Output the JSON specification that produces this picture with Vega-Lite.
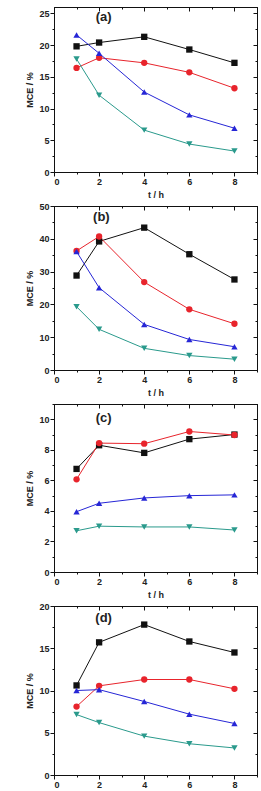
{
  "$schema": "https://vega.github.io/schema/vega-lite/v6.json",
  "padding": {"left": 25, "top": 6, "right": 4, "bottom": 4},
  "background": "white",
  "bounds": "flush",
  "spacing": 34,
  "config": {
    "view": {"stroke": "#111", "strokeWidth": 1},
    "font": "Liberation Sans",
    "axis": {
      "domainColor": "#111",
      "tickColor": "#111",
      "labelColor": "#222",
      "labelFont": "Liberation Sans",
      "labelFontSize": 9,
      "labelFontWeight": "bold",
      "titleFont": "Liberation Sans",
      "titleFontSize": 9,
      "titleFontWeight": "bold",
      "titleColor": "#222",
      "grid": false,
      "labelPadding": 1
    }
  },
  "datasets": {
    "points": [
      {"panel": "a", "series": "s1", "t": 1, "mce": 19.8},
      {"panel": "a", "series": "s1", "t": 2, "mce": 20.4},
      {"panel": "a", "series": "s1", "t": 4, "mce": 21.3},
      {"panel": "a", "series": "s1", "t": 6, "mce": 19.3},
      {"panel": "a", "series": "s1", "t": 8, "mce": 17.2},
      {"panel": "a", "series": "s2", "t": 1, "mce": 16.4},
      {"panel": "a", "series": "s2", "t": 2, "mce": 18.0},
      {"panel": "a", "series": "s2", "t": 4, "mce": 17.2},
      {"panel": "a", "series": "s2", "t": 6, "mce": 15.7},
      {"panel": "a", "series": "s2", "t": 8, "mce": 13.2},
      {"panel": "a", "series": "s3", "t": 1, "mce": 21.6},
      {"panel": "a", "series": "s3", "t": 2, "mce": 18.7},
      {"panel": "a", "series": "s3", "t": 4, "mce": 12.6},
      {"panel": "a", "series": "s3", "t": 6, "mce": 9.0},
      {"panel": "a", "series": "s3", "t": 8, "mce": 6.9},
      {"panel": "a", "series": "s4", "t": 1, "mce": 17.8},
      {"panel": "a", "series": "s4", "t": 2, "mce": 12.1},
      {"panel": "a", "series": "s4", "t": 4, "mce": 6.6},
      {"panel": "a", "series": "s4", "t": 6, "mce": 4.4},
      {"panel": "a", "series": "s4", "t": 8, "mce": 3.3},

      {"panel": "b", "series": "s1", "t": 1, "mce": 28.8},
      {"panel": "b", "series": "s1", "t": 2, "mce": 39.2},
      {"panel": "b", "series": "s1", "t": 4, "mce": 43.4},
      {"panel": "b", "series": "s1", "t": 6, "mce": 35.3},
      {"panel": "b", "series": "s1", "t": 8, "mce": 27.6},
      {"panel": "b", "series": "s2", "t": 1, "mce": 36.3},
      {"panel": "b", "series": "s2", "t": 2, "mce": 40.7},
      {"panel": "b", "series": "s2", "t": 4, "mce": 26.8},
      {"panel": "b", "series": "s2", "t": 6, "mce": 18.5},
      {"panel": "b", "series": "s2", "t": 8, "mce": 14.1},
      {"panel": "b", "series": "s3", "t": 1, "mce": 36.1},
      {"panel": "b", "series": "s3", "t": 2, "mce": 25.1},
      {"panel": "b", "series": "s3", "t": 4, "mce": 13.9},
      {"panel": "b", "series": "s3", "t": 6, "mce": 9.3},
      {"panel": "b", "series": "s3", "t": 8, "mce": 7.1},
      {"panel": "b", "series": "s4", "t": 1, "mce": 19.3},
      {"panel": "b", "series": "s4", "t": 2, "mce": 12.4},
      {"panel": "b", "series": "s4", "t": 4, "mce": 6.6},
      {"panel": "b", "series": "s4", "t": 6, "mce": 4.4},
      {"panel": "b", "series": "s4", "t": 8, "mce": 3.3},

      {"panel": "c", "series": "s1", "t": 1, "mce": 6.75},
      {"panel": "c", "series": "s1", "t": 2, "mce": 8.3},
      {"panel": "c", "series": "s1", "t": 4, "mce": 7.8},
      {"panel": "c", "series": "s1", "t": 6, "mce": 8.7},
      {"panel": "c", "series": "s1", "t": 8, "mce": 9.0},
      {"panel": "c", "series": "s2", "t": 1, "mce": 6.07},
      {"panel": "c", "series": "s2", "t": 2, "mce": 8.44},
      {"panel": "c", "series": "s2", "t": 4, "mce": 8.4},
      {"panel": "c", "series": "s2", "t": 6, "mce": 9.2},
      {"panel": "c", "series": "s2", "t": 8, "mce": 8.97},
      {"panel": "c", "series": "s3", "t": 1, "mce": 3.95},
      {"panel": "c", "series": "s3", "t": 2, "mce": 4.5},
      {"panel": "c", "series": "s3", "t": 4, "mce": 4.85},
      {"panel": "c", "series": "s3", "t": 6, "mce": 5.0},
      {"panel": "c", "series": "s3", "t": 8, "mce": 5.05},
      {"panel": "c", "series": "s4", "t": 1, "mce": 2.7},
      {"panel": "c", "series": "s4", "t": 2, "mce": 3.0},
      {"panel": "c", "series": "s4", "t": 4, "mce": 2.95},
      {"panel": "c", "series": "s4", "t": 6, "mce": 2.95},
      {"panel": "c", "series": "s4", "t": 8, "mce": 2.75},

      {"panel": "d", "series": "s1", "t": 1, "mce": 10.6},
      {"panel": "d", "series": "s1", "t": 2, "mce": 15.7},
      {"panel": "d", "series": "s1", "t": 4, "mce": 17.8},
      {"panel": "d", "series": "s1", "t": 6, "mce": 15.8},
      {"panel": "d", "series": "s1", "t": 8, "mce": 14.5},
      {"panel": "d", "series": "s2", "t": 1, "mce": 8.1},
      {"panel": "d", "series": "s2", "t": 2, "mce": 10.55},
      {"panel": "d", "series": "s2", "t": 4, "mce": 11.3},
      {"panel": "d", "series": "s2", "t": 6, "mce": 11.3},
      {"panel": "d", "series": "s2", "t": 8, "mce": 10.2},
      {"panel": "d", "series": "s3", "t": 1, "mce": 10.0},
      {"panel": "d", "series": "s3", "t": 2, "mce": 10.1},
      {"panel": "d", "series": "s3", "t": 4, "mce": 8.7},
      {"panel": "d", "series": "s3", "t": 6, "mce": 7.2},
      {"panel": "d", "series": "s3", "t": 8, "mce": 6.1},
      {"panel": "d", "series": "s4", "t": 1, "mce": 7.15},
      {"panel": "d", "series": "s4", "t": 2, "mce": 6.2},
      {"panel": "d", "series": "s4", "t": 4, "mce": 4.6},
      {"panel": "d", "series": "s4", "t": 6, "mce": 3.7},
      {"panel": "d", "series": "s4", "t": 8, "mce": 3.2}
    ],
    "labels": [
      {"panel": "a", "label": "(a)", "t": 2.2, "mce": 24.4},
      {"panel": "b", "label": "(b)", "t": 2.1, "mce": 46.6},
      {"panel": "c", "label": "(c)", "t": 2.2, "mce": 10.1},
      {"panel": "d", "label": "(d)", "t": 2.2, "mce": 18.6}
    ]
  },
  "vconcat": [
    {
      "width": 203, "height": 165,
      "resolve": {"axis": {"x": "independent", "y": "independent"}},
      "layer": [
        {
          "data": {"name": "points"},
          "transform": [{"filter": "datum.panel == 'a'"}],
          "mark": {"type": "line", "strokeWidth": 1},
          "encoding": {
            "x": {"field": "t", "type": "quantitative", "scale": {"domain": [0, 9], "nice": false},
              "axis": {"title": "t / h", "values": [0,1,2,3,4,5,6,7,8,9], "labelExpr": "datum.value % 2 == 0 ? datum.label : ''",
                "tickSize": {"condition": {"test": "datum.value % 2 == 1", "value": 2}, "value": 4}}},
            "y": {"field": "mce", "type": "quantitative", "scale": {"domain": [0, 26], "nice": false},
              "axis": {"title": "MCE / %", "values": [0,2.5,5,7.5,10,12.5,15,17.5,20,22.5,25], "labelExpr": "datum.value % 5 == 0 ? datum.label : ''",
                "tickSize": {"condition": {"test": "datum.value % 5 != 0", "value": 2}, "value": 4}}},
            "color": {"field": "series", "type": "nominal", "legend": null,
              "scale": {"domain": ["s1","s2","s3","s4"], "range": ["#111111", "#e8242c", "#2626d6", "#2a9a8c"]}},
            "detail": {"field": "series"}
          }
        },
        {
          "data": {"name": "points"},
          "transform": [{"filter": "datum.panel == 'a'"}],
          "mark": {"type": "point", "filled": true, "opacity": 1, "size": 40},
          "encoding": {
            "x": {"field": "t", "type": "quantitative",
              "axis": {"orient": "top", "title": null, "labels": false, "values": [0,1,2,3,4,5,6,7,8,9],
                "tickSize": {"condition": {"test": "datum.value % 2 == 1", "value": -2}, "value": -4}}},
            "y": {"field": "mce", "type": "quantitative",
              "axis": {"orient": "right", "title": null, "labels": false, "values": [0,2.5,5,7.5,10,12.5,15,17.5,20,22.5,25],
                "tickSize": {"condition": {"test": "datum.value % 5 != 0", "value": -2}, "value": -4}}},
            "color": {"field": "series", "type": "nominal", "legend": null},
            "shape": {"field": "series", "type": "nominal", "legend": null,
              "scale": {"domain": ["s1","s2","s3","s4"], "range": ["square", "circle", "triangle-up", "triangle-down"]}}
          }
        },
        {
          "data": {"name": "labels"},
          "transform": [{"filter": "datum.panel == 'a'"}],
          "mark": {"type": "text", "fontSize": 13, "fontWeight": "bold", "font": "Liberation Sans", "color": "#222"},
          "encoding": {
            "x": {"field": "t", "type": "quantitative", "axis": null},
            "y": {"field": "mce", "type": "quantitative", "axis": null},
            "text": {"field": "label"}
          }
        }
      ]
    },
    {
      "width": 203, "height": 164,
      "resolve": {"axis": {"x": "independent", "y": "independent"}},
      "layer": [
        {
          "data": {"name": "points"},
          "transform": [{"filter": "datum.panel == 'b'"}],
          "mark": {"type": "line", "strokeWidth": 1},
          "encoding": {
            "x": {"field": "t", "type": "quantitative", "scale": {"domain": [0, 9], "nice": false},
              "axis": {"title": "t / h", "values": [0,1,2,3,4,5,6,7,8,9], "labelExpr": "datum.value % 2 == 0 ? datum.label : ''",
                "tickSize": {"condition": {"test": "datum.value % 2 == 1", "value": 2}, "value": 4}}},
            "y": {"field": "mce", "type": "quantitative", "scale": {"domain": [0, 50], "nice": false},
              "axis": {"title": "MCE / %", "values": [0,5,10,15,20,25,30,35,40,45,50], "labelExpr": "datum.value % 10 == 0 ? datum.label : ''",
                "tickSize": {"condition": {"test": "datum.value % 10 != 0", "value": 2}, "value": 4}}},
            "color": {"field": "series", "type": "nominal", "legend": null,
              "scale": {"domain": ["s1","s2","s3","s4"], "range": ["#111111", "#e8242c", "#2626d6", "#2a9a8c"]}},
            "detail": {"field": "series"}
          }
        },
        {
          "data": {"name": "points"},
          "transform": [{"filter": "datum.panel == 'b'"}],
          "mark": {"type": "point", "filled": true, "opacity": 1, "size": 40},
          "encoding": {
            "x": {"field": "t", "type": "quantitative",
              "axis": {"orient": "top", "title": null, "labels": false, "values": [0,1,2,3,4,5,6,7,8,9],
                "tickSize": {"condition": {"test": "datum.value % 2 == 1", "value": -2}, "value": -4}}},
            "y": {"field": "mce", "type": "quantitative",
              "axis": {"orient": "right", "title": null, "labels": false, "values": [0,5,10,15,20,25,30,35,40,45,50],
                "tickSize": {"condition": {"test": "datum.value % 10 != 0", "value": -2}, "value": -4}}},
            "color": {"field": "series", "type": "nominal", "legend": null},
            "shape": {"field": "series", "type": "nominal", "legend": null,
              "scale": {"domain": ["s1","s2","s3","s4"], "range": ["square", "circle", "triangle-up", "triangle-down"]}}
          }
        },
        {
          "data": {"name": "labels"},
          "transform": [{"filter": "datum.panel == 'b'"}],
          "mark": {"type": "text", "fontSize": 13, "fontWeight": "bold", "font": "Liberation Sans", "color": "#222"},
          "encoding": {
            "x": {"field": "t", "type": "quantitative", "axis": null},
            "y": {"field": "mce", "type": "quantitative", "axis": null},
            "text": {"field": "label"}
          }
        }
      ]
    },
    {
      "width": 203, "height": 168,
      "resolve": {"axis": {"x": "independent", "y": "independent"}},
      "layer": [
        {
          "data": {"name": "points"},
          "transform": [{"filter": "datum.panel == 'c'"}],
          "mark": {"type": "line", "strokeWidth": 1},
          "encoding": {
            "x": {"field": "t", "type": "quantitative", "scale": {"domain": [0, 9], "nice": false},
              "axis": {"title": "t / h", "values": [0,1,2,3,4,5,6,7,8,9], "labelExpr": "datum.value % 2 == 0 ? datum.label : ''",
                "tickSize": {"condition": {"test": "datum.value % 2 == 1", "value": 2}, "value": 4}}},
            "y": {"field": "mce", "type": "quantitative", "scale": {"domain": [0, 11], "nice": false},
              "axis": {"title": "MCE / %", "values": [0,1,2,3,4,5,6,7,8,9,10,11], "labelExpr": "datum.value % 2 == 0 ? datum.label : ''",
                "tickSize": {"condition": {"test": "datum.value % 2 != 0", "value": 2}, "value": 4}}},
            "color": {"field": "series", "type": "nominal", "legend": null,
              "scale": {"domain": ["s1","s2","s3","s4"], "range": ["#111111", "#e8242c", "#2626d6", "#2a9a8c"]}},
            "detail": {"field": "series"}
          }
        },
        {
          "data": {"name": "points"},
          "transform": [{"filter": "datum.panel == 'c'"}],
          "mark": {"type": "point", "filled": true, "opacity": 1, "size": 40},
          "encoding": {
            "x": {"field": "t", "type": "quantitative",
              "axis": {"orient": "top", "title": null, "labels": false, "values": [0,1,2,3,4,5,6,7,8,9],
                "tickSize": {"condition": {"test": "datum.value % 2 == 1", "value": -2}, "value": -4}}},
            "y": {"field": "mce", "type": "quantitative",
              "axis": {"orient": "right", "title": null, "labels": false, "values": [0,1,2,3,4,5,6,7,8,9,10,11],
                "tickSize": {"condition": {"test": "datum.value % 2 != 0", "value": -2}, "value": -4}}},
            "color": {"field": "series", "type": "nominal", "legend": null},
            "shape": {"field": "series", "type": "nominal", "legend": null,
              "scale": {"domain": ["s1","s2","s3","s4"], "range": ["square", "circle", "triangle-up", "triangle-down"]}}
          }
        },
        {
          "data": {"name": "labels"},
          "transform": [{"filter": "datum.panel == 'c'"}],
          "mark": {"type": "text", "fontSize": 13, "fontWeight": "bold", "font": "Liberation Sans", "color": "#222"},
          "encoding": {
            "x": {"field": "t", "type": "quantitative", "axis": null},
            "y": {"field": "mce", "type": "quantitative", "axis": null},
            "text": {"field": "label"}
          }
        }
      ]
    },
    {
      "width": 203, "height": 169,
      "resolve": {"axis": {"x": "independent", "y": "independent"}},
      "layer": [
        {
          "data": {"name": "points"},
          "transform": [{"filter": "datum.panel == 'd'"}],
          "mark": {"type": "line", "strokeWidth": 1},
          "encoding": {
            "x": {"field": "t", "type": "quantitative", "scale": {"domain": [0, 9], "nice": false},
              "axis": {"title": "t / h", "values": [0,1,2,3,4,5,6,7,8,9], "labelExpr": "datum.value % 2 == 0 ? datum.label : ''",
                "tickSize": {"condition": {"test": "datum.value % 2 == 1", "value": 2}, "value": 4}}},
            "y": {"field": "mce", "type": "quantitative", "scale": {"domain": [0, 20], "nice": false},
              "axis": {"title": "MCE / %", "values": [0,2.5,5,7.5,10,12.5,15,17.5,20], "labelExpr": "datum.value % 5 == 0 ? datum.label : ''",
                "tickSize": {"condition": {"test": "datum.value % 5 != 0", "value": 2}, "value": 4}}},
            "color": {"field": "series", "type": "nominal", "legend": null,
              "scale": {"domain": ["s1","s2","s3","s4"], "range": ["#111111", "#e8242c", "#2626d6", "#2a9a8c"]}},
            "detail": {"field": "series"}
          }
        },
        {
          "data": {"name": "points"},
          "transform": [{"filter": "datum.panel == 'd'"}],
          "mark": {"type": "point", "filled": true, "opacity": 1, "size": 40},
          "encoding": {
            "x": {"field": "t", "type": "quantitative",
              "axis": {"orient": "top", "title": null, "labels": false, "values": [0,1,2,3,4,5,6,7,8,9],
                "tickSize": {"condition": {"test": "datum.value % 2 == 1", "value": -2}, "value": -4}}},
            "y": {"field": "mce", "type": "quantitative",
              "axis": {"orient": "right", "title": null, "labels": false, "values": [0,2.5,5,7.5,10,12.5,15,17.5,20],
                "tickSize": {"condition": {"test": "datum.value % 5 != 0", "value": -2}, "value": -4}}},
            "color": {"field": "series", "type": "nominal", "legend": null},
            "shape": {"field": "series", "type": "nominal", "legend": null,
              "scale": {"domain": ["s1","s2","s3","s4"], "range": ["square", "circle", "triangle-up", "triangle-down"]}}
          }
        },
        {
          "data": {"name": "labels"},
          "transform": [{"filter": "datum.panel == 'd'"}],
          "mark": {"type": "text", "fontSize": 13, "fontWeight": "bold", "font": "Liberation Sans", "color": "#222"},
          "encoding": {
            "x": {"field": "t", "type": "quantitative", "axis": null},
            "y": {"field": "mce", "type": "quantitative", "axis": null},
            "text": {"field": "label"}
          }
        }
      ]
    }
  ]
}
